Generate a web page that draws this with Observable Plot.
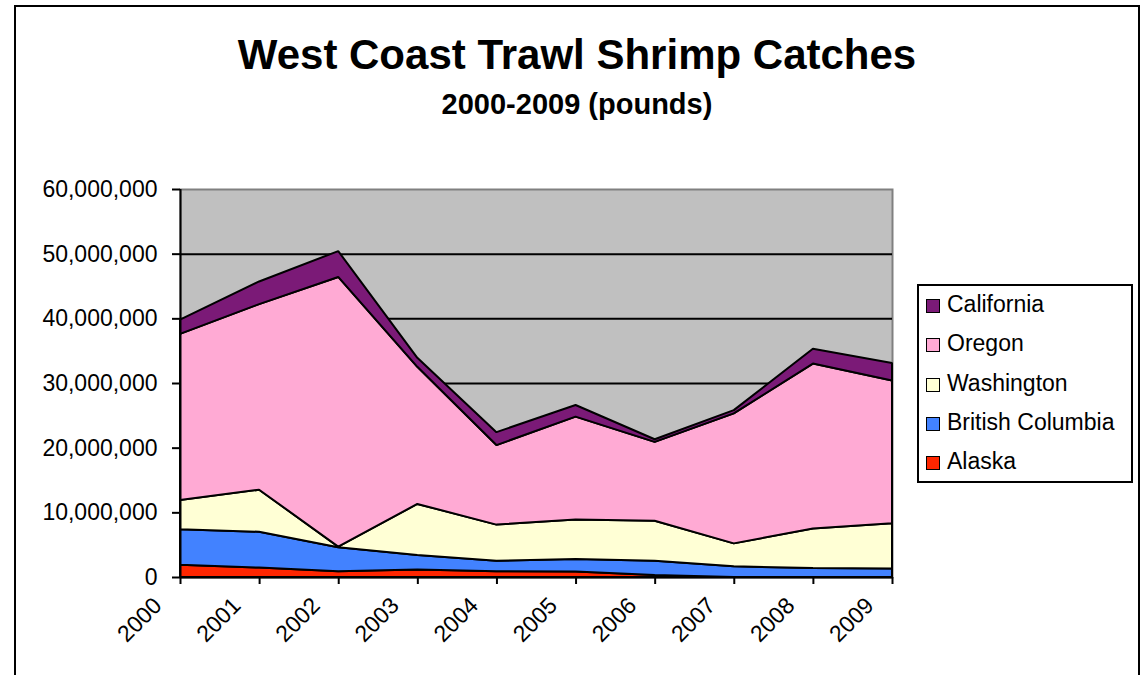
<!DOCTYPE html>
<html>
<head>
<meta charset="utf-8">
<script src="https://cdn.jsdelivr.net/npm/d3@7"></script>
<script src="https://cdn.jsdelivr.net/npm/@observablehq/plot@0.6"></script>
<style>
  body { margin: 0; background: #fff; font-family: "Liberation Sans", Arial, sans-serif; }
  #wrap { position: relative; width: 1142px; height: 675px; overflow: hidden; background: #fff; }
  #chart { position: absolute; left: 0; top: 0; }
  #border { position: absolute; left: 14px; top: 5px; width: 1126px; height: 720px; border: 2px solid #000; box-sizing: border-box; pointer-events: none; }
  .title { position: absolute; left: 14px; width: 1126px; text-align: center; font-weight: bold; line-height: 1; color: #000; white-space: nowrap; }
  #t1 { top: 34px; font-size: 42px; }
  #t2 { top: 90px; font-size: 29px; }
  #legend { position: absolute; left: 917px; top: 284px; width: 216px; height: 199px; border: 2px solid #000; box-sizing: border-box; background: #fff; }
  .sw { position: absolute; width: 14px; height: 14px; border: 1.5px solid #000; box-sizing: border-box; }
  .lt { position: absolute; font-size: 23px; line-height: 1; white-space: nowrap; color: #000; }
</style>
</head>
<body>
<div id="wrap">
  <div id="chart"></div>
  <div id="border"></div>
  <div class="title" id="t1">West Coast Trawl Shrimp Catches</div>
  <div class="title" id="t2">2000-2009 (pounds)</div>
  <div id="legend"></div>
</div>
<script>
// ---- data (pounds) ----
const years = [2000, 2001, 2002, 2003, 2004, 2005, 2006, 2007, 2008, 2009];
const alaska = [1900000, 1450000, 900000, 1150000, 900000, 850000, 300000, 0, 0, 0];
const britishColumbia = [5500000, 5550000, 3700000, 2250000, 1600000, 1950000, 2200000, 1650000, 1400000, 1300000];
const washington = [4500000, 6500000, 100000, 7900000, 5600000, 6100000, 6200000, 3550000, 6100000, 7000000];
const oregon = [25700000, 28700000, 41700000, 21200000, 12300000, 15900000, 12200000, 20100000, 25500000, 22100000];
const california = [2200000, 3500000, 4000000, 1400000, 2000000, 1800000, 400000, 500000, 2300000, 2700000];
const seriesNames = ["Alaska", "British Columbia", "Washington", "Oregon", "California"];
const seriesColors = ["#ff2600", "#4282ff", "#ffffd5", "#ffaad4", "#7b1a77"];
const legendOrder = ["California", "Oregon", "Washington", "British Columbia", "Alaska"];
const yTicks = [0, 10000000, 20000000, 30000000, 40000000, 50000000, 60000000];
const gridTicks = [10000000, 20000000, 30000000, 40000000, 50000000];

const seriesValues = [alaska, britishColumbia, washington, oregon, california];
const rows = [];
seriesNames.forEach((name, s) => {
  years.forEach((yr, i) => rows.push({year: yr, state: name, value: seriesValues[s][i]}));
});

const plot = Plot.plot({
  width: 1142,
  height: 675,
  marginLeft: 180,
  marginRight: 250,
  marginTop: 189,
  marginBottom: 98,
  style: {fontFamily: "'Liberation Sans', Arial, sans-serif", fontSize: "23px", color: "#000", background: "transparent", overflow: "visible"},
  x: {type: "linear", domain: [2000, 2009], axis: null, label: null},
  y: {domain: [0, 60000000], axis: null, label: null},
  color: {domain: seriesNames, range: seriesColors},
  marks: [
    Plot.frame({fill: "#c0c0c0", stroke: "#808080", strokeWidth: 2}),
    Plot.ruleY(gridTicks, {stroke: "#000", strokeWidth: 2}),
    Plot.areaY(rows, {
      x: "year", y: "value", z: "state", fill: "state",
      order: seriesNames,
      stroke: "#000", strokeWidth: 2, strokeLinejoin: "miter"
    }),
    Plot.ruleX([2000], {stroke: "#000", strokeWidth: 2}),
    Plot.ruleY([0], {stroke: "#000", strokeWidth: 2}),
    Plot.axisY({ticks: yTicks, label: null, tickSize: 8, tickPadding: 15, tickFormat: d3.format(","), fontSize: 23, strokeWidth: 2, stroke: "#000", fill: "#000"}),
    Plot.axisX({ticks: years, label: null, tickSize: 7, tickFormat: () => "", strokeWidth: 2, stroke: "#000"}),
    Plot.text(years, {
      x: d => d, y: () => 0, text: d => String(d),
      rotate: -45, textAnchor: "end", lineAnchor: "top",
      fontSize: 23, fill: "#000", dx: -29, dy: 18
    })
  ]
});
document.getElementById("chart").appendChild(plot);

// legend
const legend = document.getElementById("legend");
legendOrder.forEach((name, i) => {
  const c = seriesColors[seriesNames.indexOf(name)];
  const sw = document.createElement("div");
  sw.className = "sw";
  sw.style.left = (926 - 917 - 2) + "px";
  sw.style.top = (299 - 284 - 2 + i * 39.3) + "px";
  sw.style.background = c;
  legend.appendChild(sw);
  const t = document.createElement("div");
  t.className = "lt";
  t.textContent = name;
  t.style.left = (947 - 917 - 2) + "px";
  t.style.top = (293 - 284 - 2 + i * 39.3) + "px";
  legend.appendChild(t);
});
</script>
</body>
</html>
